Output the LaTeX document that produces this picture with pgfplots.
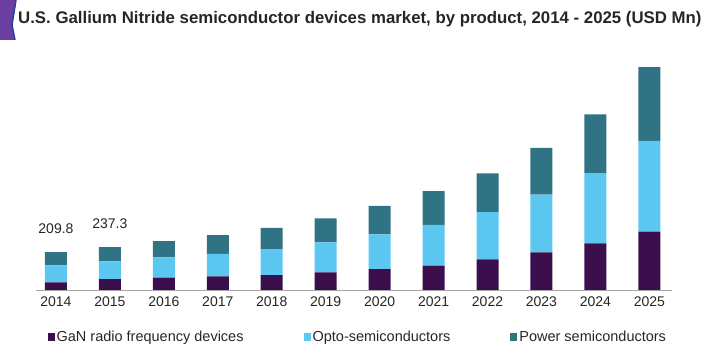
\documentclass[border=0pt]{standalone}
\usepackage{fontspec}
\setmainfont{Liberation Sans}
\usepackage{pgfplots}
\pgfplotsset{compat=1.18}
\definecolor{cdark}{HTML}{3A0F4C}
\definecolor{clight}{HTML}{5CC8F2}
\definecolor{cteal}{HTML}{2F7385}
\definecolor{logopurple}{HTML}{6A3FA0}
\definecolor{logoblue}{HTML}{2B3F9E}
\begin{document}
\begin{tikzpicture}[x=1bp,y=1bp]
% decorative corner
\fill[logopurple] (0,354) -- (16,354) -- (12,329) -- (15,314) -- (0,314) -- cycle;
\draw[logoblue, line width=1.5bp] (16,354) -- (12,329) -- (15,314);
\begin{axis}[
  at={(36bp,64bp)}, anchor=south west,
  scale only axis, width=636bp, height=230bp,
  ybar stacked, bar width=22bp,
  xmin=-0.37, xmax=11.42, ymin=0, ymax=1276,
  axis y line=none, axis x line*=bottom,
  x axis line style={draw=black!35, line width=1bp},
  xtick=data,
  xticklabels={2014,2015,2016,2017,2018,2019,2020,2021,2022,2023,2024,2025},
  xtick style={draw=none}, ytick=\empty,
  xticklabel style={font=\fontsize{14bp}{16bp}\selectfont, text=black!85, yshift=-3bp},
  legend columns=3,
  legend style={draw=none, fill=none, at={(0.506,-0.204)}, anchor=center,
    font=\fontsize{14.5bp}{16bp}\selectfont, text=black!85,
    /tikz/every even column/.append style={column sep=58bp}},
  legend image code/.code={\fill[#1, draw=none] (0bp,-4bp) rectangle (7bp,3.5bp);},
]
\addplot[fill=cdark, draw=none] coordinates {
(0,42) (1,60) (2,68) (3,76) (4,83) (5,98) (6,116.5) (7,135) (8,170) (9,209) (10,259) (11,324)};
\addplot[fill=clight, draw=none] coordinates {
(0,95) (1,99) (2,113) (3,125) (4,144) (5,166.5) (6,192.6) (7,226) (8,262.5) (9,320) (10,390) (11,503)};
\addplot[fill=cteal, draw=none] coordinates {
(0,72.8) (1,78.3) (2,90.5) (3,104) (4,117) (5,133) (6,157) (7,187) (8,215) (9,259) (10,326) (11,409)};
\legend{GaN radio frequency devices, Opto-semiconductors, Power semiconductors}
\node[font=\fontsize{14bp}{16bp}\selectfont, text=black!85] at (axis cs:0,209.8) [yshift=24bp] {209.8};
\node[font=\fontsize{14bp}{16bp}\selectfont, text=black!85] at (axis cs:1,237.3) [yshift=24bp] {237.3};
\end{axis}
\node[anchor=west, font=\bfseries\fontsize{16.8bp}{18bp}\selectfont, text=black!85, inner sep=0pt] at (18bp,335bp)
  {U.S. Gallium Nitride semiconductor devices market, by product, 2014 - 2025 (USD Mn)};
\pgfresetboundingbox
\useasboundingbox (0,0) rectangle (708bp,354bp);
\end{tikzpicture}
\end{document}
